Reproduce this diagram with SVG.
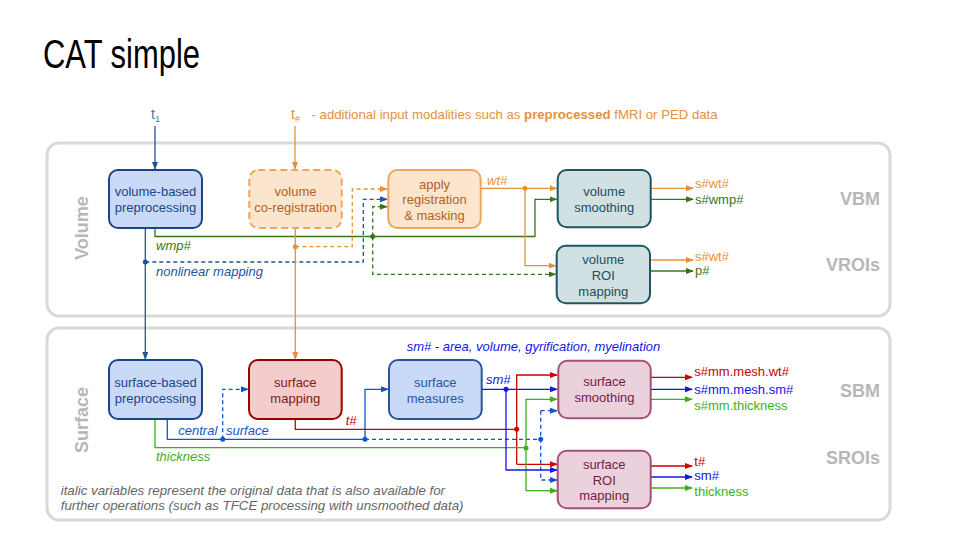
<svg xmlns="http://www.w3.org/2000/svg" width="960" height="540" viewBox="0 0 960 540">
<style>
text{font-family:"Liberation Sans",Arial,sans-serif;}
.panel{fill:#fff;stroke:#d9d9d9;stroke-width:3;}
.box{stroke-width:2;}
.nt{font-size:13px;text-anchor:middle;}
.lab{font-size:13px;font-style:italic;}
.out{font-size:13px;}
.sec{font-size:18px;font-weight:bold;fill:#b7b7b7;}
.c{fill:none;stroke-width:1.3;}
.d{stroke-dasharray:4,3;}
.db{stroke:#1f5597;}
.or{stroke:#e69138;}
.gd{stroke:#38761d;}
.gb{stroke:#3cb01c;}
.rd{stroke:#cc0000;}
.bl{stroke:#1515e8;}
.bm{stroke:#1155cc;}
</style>
<defs>
<marker id="a-db" markerWidth="8" markerHeight="6" refX="7" refY="3" orient="auto" markerUnits="userSpaceOnUse"><path d="M0,0 L8,3 L0,6 z" fill="#1f5597"/></marker>
<marker id="a-or" markerWidth="8" markerHeight="6" refX="7" refY="3" orient="auto" markerUnits="userSpaceOnUse"><path d="M0,0 L8,3 L0,6 z" fill="#e69138"/></marker>
<marker id="a-gd" markerWidth="8" markerHeight="6" refX="7" refY="3" orient="auto" markerUnits="userSpaceOnUse"><path d="M0,0 L8,3 L0,6 z" fill="#38761d"/></marker>
<marker id="a-gb" markerWidth="8" markerHeight="6" refX="7" refY="3" orient="auto" markerUnits="userSpaceOnUse"><path d="M0,0 L8,3 L0,6 z" fill="#3cb01c"/></marker>
<marker id="a-rd" markerWidth="8" markerHeight="6" refX="7" refY="3" orient="auto" markerUnits="userSpaceOnUse"><path d="M0,0 L8,3 L0,6 z" fill="#cc0000"/></marker>
<marker id="a-bl" markerWidth="8" markerHeight="6" refX="7" refY="3" orient="auto" markerUnits="userSpaceOnUse"><path d="M0,0 L8,3 L0,6 z" fill="#1515e8"/></marker>
<marker id="a-bm" markerWidth="8" markerHeight="6" refX="7" refY="3" orient="auto" markerUnits="userSpaceOnUse"><path d="M0,0 L8,3 L0,6 z" fill="#1155cc"/></marker>
</defs>
<rect width="960" height="540" fill="#fff"/>
<text x="43" y="68" font-family="'DejaVu Sans Condensed','DejaVu Sans',sans-serif" font-stretch="condensed" font-size="41" fill="#000" textLength="157" lengthAdjust="spacingAndGlyphs">CAT simple</text>

<g id="panels">
<rect class="panel" x="47" y="143" width="843" height="173" rx="12"/>
<rect class="panel" x="47" y="328" width="843" height="192" rx="12"/>
<text class="sec" transform="translate(88,228) rotate(-90)" text-anchor="middle">Volume</text>
<text class="sec" transform="translate(88,420) rotate(-90)" text-anchor="middle">Surface</text>
<text class="sec" x="880" y="205" text-anchor="end">VBM</text>
<text class="sec" x="880" y="271" text-anchor="end">VROIs</text>
<text class="sec" x="880" y="397" text-anchor="end">SBM</text>
<text class="sec" x="880" y="464" text-anchor="end">SROIs</text>
</g>

<g id="inputs">
<text x="151" y="119" font-size="14" fill="#3d78b5">t<tspan font-size="9" dy="3">1</tspan></text>
<text x="291" y="119" font-size="14" fill="#e69138">t<tspan font-size="9" dy="3">#</tspan></text>
<text x="311.5" y="119" font-size="13.2" fill="#e69138">- additional input modalities such as <tspan font-weight="bold">preprocessed</tspan> fMRI or PED data</text>
</g>

<g id="connectors">
<!-- volume -->
<path class="c db" d="M155,126 V169" marker-end="url(#a-db)"/>
<path class="c or" d="M295,126 V169" marker-end="url(#a-or)"/>
<path class="c db" d="M145.3,228 V359" marker-end="url(#a-db)"/>
<path class="c db d" d="M145.3,262 H363.3 V199.3 H387" marker-end="url(#a-db)"/>
<path class="c gd" d="M155,228 V236.5 H535 V199.3 H556.5" marker-end="url(#a-gd)"/>
<path class="c gd d" d="M372.7,236.5 V206.7 H387" marker-end="url(#a-gd)"/>
<path class="c gd d" d="M372.7,236.5 V274.3 H555.5" marker-end="url(#a-gd)"/>
<path class="c or" d="M295.3,228 V359" marker-end="url(#a-or)"/>
<path class="c or d" d="M295.3,246.7 H352.3 V189 H387" marker-end="url(#a-or)"/>
<path class="c or" d="M480.7,188.3 H556.5" marker-end="url(#a-or)"/>
<path class="c or" d="M525,188.3 V265.7 H555.5" marker-end="url(#a-or)"/>
<path class="c or" d="M650.7,188.3 H693" marker-end="url(#a-or)"/>
<path class="c gd" d="M650.7,199.3 H693" marker-end="url(#a-gd)"/>
<path class="c or" d="M650,260 H693" marker-end="url(#a-or)"/>
<path class="c gd" d="M650,271 H693" marker-end="url(#a-gd)"/>
<circle cx="145.3" cy="262" r="2.5" fill="#1f5597"/>
<circle cx="372.7" cy="236.5" r="2.5" fill="#38761d"/>
<circle cx="295.3" cy="246.7" r="2.5" fill="#e69138"/>
<circle cx="525" cy="188.3" r="2.5" fill="#e69138"/>
<!-- surface -->
<path class="c bm" d="M167.3,419 V439.3 H365" />
<path class="c bm d" d="M222.7,439.3 V389.3 H248" marker-end="url(#a-bm)"/>
<path class="c bm" d="M365,439.3 V389.3 H388" marker-end="url(#a-bm)"/>
<path class="c bm d" d="M365,439.3 H540.7"/>
<path class="c bm d" d="M540.7,410.7 H557" marker-end="url(#a-bm)"/>
<path class="c bm d" d="M540.7,410.7 V480 H557" marker-end="url(#a-bm)"/>
<path class="c rd" d="M295.3,419 V429.3 H516.7"/>
<path class="c rd" d="M516.7,464.3 V375 H557" marker-end="url(#a-rd)"/>
<path class="c rd" d="M516.7,464.3 H557" marker-end="url(#a-rd)"/>
<path class="c gb" d="M155,419 V447.7 H526"/>
<path class="c gb" d="M526,490.7 V399.3 H557" marker-end="url(#a-gb)"/>
<path class="c gb" d="M526,490.7 H557" marker-end="url(#a-gb)"/>
<path class="c bl" d="M481.7,389.3 H557" marker-end="url(#a-bl)"/>
<path class="c bl" d="M506,389.3 V470 H557" marker-end="url(#a-bl)"/>
<path class="c rd" d="M650.7,377.3 H692" marker-end="url(#a-rd)"/>
<path class="c bl" d="M650.7,389.3 H692" marker-end="url(#a-bl)"/>
<path class="c gb" d="M650.7,399.3 H692" marker-end="url(#a-gb)"/>
<path class="c rd" d="M650.7,466 H692" marker-end="url(#a-rd)"/>
<path class="c bl" d="M650.7,477 H692" marker-end="url(#a-bl)"/>
<path class="c gb" d="M650.7,488 H692" marker-end="url(#a-gb)"/>
<circle cx="222.7" cy="439.3" r="2.5" fill="#1155cc"/>
<circle cx="365" cy="439.3" r="2.5" fill="#1155cc"/>
<circle cx="540.7" cy="439.3" r="2.5" fill="#1155cc"/>
<circle cx="516.7" cy="429.3" r="2.5" fill="#cc0000"/>
<circle cx="526" cy="448" r="2.5" fill="#3cb01c"/>
<circle cx="506" cy="389.3" r="2.5" fill="#1515e8"/>
</g>

<g id="labels">
<text class="lab" x="156" y="250" fill="#38761d">wmp#</text>
<text class="lab" x="156" y="276" fill="#1f5597">nonlinear mapping</text>
<text class="lab" x="487" y="184.5" fill="#e69138">wt#</text>
<text class="out" x="695" y="188" fill="#e69138">s#wt#</text>
<text class="out" x="695" y="203.5" fill="#38761d">s#wmp#</text>
<text class="out" x="695" y="261" fill="#e69138">s#wt#</text>
<text class="out" x="695" y="274.5" fill="#38761d">p#</text>
<text class="lab" x="406.7" y="350.5" fill="#1515e8" font-size="13.3">sm# - area, volume, gyrification, myelination</text>
<text class="lab" x="486" y="383.5" fill="#1515e8">sm#</text>
<text class="lab" x="178.3" y="434.5" fill="#1155cc">central</text>
<text class="lab" x="226" y="434.5" fill="#1155cc">surface</text>
<text class="lab" x="345.7" y="425" fill="#cc0000">t#</text>
<text class="lab" x="156" y="460.5" fill="#3cb01c">thickness</text>
<text class="out" x="694.3" y="376" fill="#cc0000">s#mm.mesh.wt#</text>
<text class="out" x="694.3" y="393.8" fill="#1515e8">s#mm.mesh.sm#</text>
<text class="out" x="694.3" y="409.5" fill="#3cb01c">s#mm.thickness</text>
<text class="out" x="694.3" y="465.5" fill="#cc0000">t#</text>
<text class="out" x="694.3" y="480.2" fill="#1515e8">sm#</text>
<text class="out" x="694.3" y="495.5" fill="#3cb01c">thickness</text>
<text x="60.7" y="494.5" font-size="13.3" font-style="italic" fill="#666">italic variables represent the original data that is also available for</text>
<text x="60.7" y="509.5" font-size="13.3" font-style="italic" fill="#666">further operations (such as TFCE processing with unsmoothed data)</text>
</g>

<g id="vol-preproc">
<rect class="box" x="109" y="170" width="93" height="58" rx="9" fill="#c9daf8" stroke="#1c4587"/>
<text class="nt" x="155.5" y="196" fill="#1c4587">volume-based</text>
<text class="nt" x="155.5" y="212" fill="#1c4587">preprocessing</text>
</g>
<g id="vol-coreg">
<rect class="box" x="249.3" y="170" width="92.4" height="58" rx="9" fill="#fce5cd" stroke="#f1a55c" stroke-width="2.5" stroke-dasharray="7,4"/>
<text class="nt" x="295.5" y="196" fill="#b4621b">volume</text>
<text class="nt" x="295.5" y="212" fill="#b4621b">co-registration</text>
</g>
<g id="vol-apply">
<rect class="box" x="388.3" y="170" width="92.4" height="58" rx="9" fill="#fce5cd" stroke="#f1a55c"/>
<text class="nt" x="434.5" y="188.5" fill="#b4621b">apply</text>
<text class="nt" x="434.5" y="204.3" fill="#b4621b">registration</text>
<text class="nt" x="434.5" y="220" fill="#b4621b">&amp; masking</text>
</g>
<g id="vol-smooth">
<rect class="box" x="557.7" y="170" width="93" height="57.3" rx="9" fill="#d0e0e3" stroke="#1d5562"/>
<text class="nt" x="604.2" y="196" fill="#1f4e5a">volume</text>
<text class="nt" x="604.2" y="212" fill="#1f4e5a">smoothing</text>
</g>
<g id="vol-roi">
<rect class="box" x="556.7" y="245.7" width="93.3" height="57.6" rx="9" fill="#d0e0e3" stroke="#1d5562"/>
<text class="nt" x="603.3" y="263.5" fill="#1f4e5a">volume</text>
<text class="nt" x="603.3" y="279.5" fill="#1f4e5a">ROI</text>
<text class="nt" x="603.3" y="295.5" fill="#1f4e5a">mapping</text>
</g>
<g id="surf-preproc">
<rect class="box" x="109" y="360" width="93" height="59" rx="9" fill="#c9daf8" stroke="#1c4587"/>
<text class="nt" x="155.5" y="387" fill="#1c4587">surface-based</text>
<text class="nt" x="155.5" y="403" fill="#1c4587">preprocessing</text>
</g>
<g id="surf-mapping">
<rect class="box" x="249" y="360" width="92.7" height="59" rx="9" fill="#f4cccc" stroke="#990000"/>
<text class="nt" x="295.3" y="387" fill="#85200c">surface</text>
<text class="nt" x="295.3" y="403" fill="#85200c">mapping</text>
</g>
<g id="surf-measures">
<rect class="box" x="389" y="360" width="92.7" height="59" rx="9" fill="#c9daf8" stroke="#2a5699"/>
<text class="nt" x="435.3" y="387" fill="#28579a">surface</text>
<text class="nt" x="435.3" y="403" fill="#28579a">measures</text>
</g>
<g id="surf-smooth">
<rect class="box" x="558.3" y="360.7" width="92.4" height="57.6" rx="9" fill="#ead1dc" stroke="#a64d79"/>
<text class="nt" x="604.5" y="386" fill="#741b47">surface</text>
<text class="nt" x="604.5" y="402" fill="#741b47">smoothing</text>
</g>
<g id="surf-roi">
<rect class="box" x="557.7" y="450.7" width="93" height="57.6" rx="9" fill="#ead1dc" stroke="#a64d79"/>
<text class="nt" x="604.2" y="468.5" fill="#741b47">surface</text>
<text class="nt" x="604.2" y="484.5" fill="#741b47">ROI</text>
<text class="nt" x="604.2" y="500.2" fill="#741b47">mapping</text>
</g>
</svg>
